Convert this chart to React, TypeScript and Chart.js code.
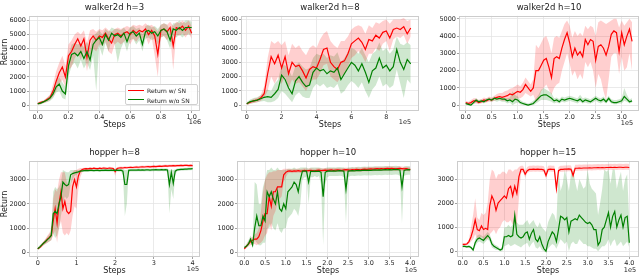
import React, { useEffect, useRef } from 'react';
import { Chart, registerables } from 'chart.js';
Chart.register(...registerables);

const FONT = '"DejaVu Sans", sans-serif';
const RED = '#ff0000';
const GREEN = '#008000';
const RED_BAND = 'rgba(255,0,0,0.19)';
const GREEN_BAND = 'rgba(0,128,0,0.19)';

// ---------- walker2d h=3 (steps in 1e6, every 0.02) ----------
const w3Step = 0.02;
const w3Red = [100,200,250,400,550,1000,1700,2300,2700,2000,3500,3800,4300,4700,4200,4700,3400,4600,4900,4600,4900,4800,5100,4700,4400,5000,5100,4900,5100,5200,5000,5300,5100,5300,5200,5400,5000,5300,4900,3600,5300,5400,5200,5500,4200,5500,5400,5600,5300,5600,5100];
const w3RedLo = [0,100,150,250,350,600,1000,1500,1800,1300,2500,2700,3300,3700,3200,3800,2400,3500,4000,3800,4300,4200,4500,3800,3600,4300,4500,4300,4500,4700,4300,4700,4500,4800,4700,4900,4300,4800,3500,2000,4800,4900,4600,5000,2500,5000,4900,5100,4800,5100,4700];
const w3RedHi = [200,300,350,550,750,1500,2400,3000,3500,2800,4300,4600,5000,5200,5000,5300,4400,5300,5400,5200,5400,5300,5500,5300,5200,5400,5500,5400,5500,5600,5500,5700,5600,5700,5600,5800,5600,5700,5500,5200,5700,5800,5700,5900,5600,5900,5800,6000,5800,6000,5600];
const w3Green = [100,150,250,350,500,800,1300,1500,1000,800,2800,3600,3700,3500,3800,3300,3800,3200,4300,4600,4800,4300,5000,4600,5100,4900,5000,4800,5100,4500,5100,5200,4900,5100,4300,5200,5300,5100,5200,4900,5300,5400,5200,4600,5400,5300,5500,5300,5500,5500,5500];
const w3GreenLo = [0,50,150,200,300,500,900,1000,500,400,2000,2800,3000,2600,3200,2600,3000,2500,3500,1000,4200,3500,4400,3800,4600,4300,3000,4000,4500,3800,4600,4700,4300,4600,3800,4700,4800,4600,4700,4300,4800,4900,4600,4000,4900,4800,5000,4800,5000,5000,5000];
const w3GreenHi = [200,250,350,500,700,1100,1700,2000,1600,1300,3500,4300,4400,4300,4400,4100,4500,4000,4900,5100,5300,5000,5400,5200,5500,5400,5400,5300,5500,5200,5500,5600,5400,5500,5000,5600,5700,5500,5600,5400,5700,5800,5700,5300,5800,5800,6000,5800,6000,6000,5900];

// ---------- walker2d h=8 (steps in 1e5, every 0.2) ----------
const w8Step = 0.2;
const w8Red = [100,200,300,350,500,800,2200,3400,2900,3500,2600,3400,2200,3000,2700,2800,2400,1900,2500,2700,2600,3200,3900,4000,3000,2700,2500,3000,3100,3600,4300,4500,4700,4400,3900,4600,4500,4900,4700,5100,5200,4700,5300,5400,5300,5500,5000,5400];
const w8RedLo = [0,100,150,200,300,500,1000,2000,1500,2000,1500,2000,1200,1800,1500,1600,1300,1000,1500,1800,1800,2200,2800,2900,2000,1800,1600,2000,2200,2700,3300,3500,3800,3500,3000,3600,3600,4000,3800,4300,4500,3800,4600,4800,4700,4900,4300,4800];
const w8RedHi = [200,300,450,500,700,1300,3300,4500,4300,4500,4200,4500,3500,4300,4000,4200,3800,3500,4000,4200,4000,4600,5000,5200,4500,4200,4000,4500,4500,4800,5300,5500,5600,5500,5000,5600,5400,5800,5700,5900,6000,5700,6000,6000,6000,6100,5900,6000];
const w8Green = [100,250,300,350,450,550,600,550,800,1100,2100,1800,1200,800,1700,2000,1600,1300,1400,2300,2600,2400,2500,2200,2400,2300,2600,1800,2200,2600,3000,2800,2400,2900,2300,1600,2400,2600,3300,2600,2800,2400,2700,3900,3000,2500,3200,2900];
const w8GreenLo = [0,100,150,200,250,300,200,200,300,500,1000,800,500,200,700,900,600,500,500,1200,1500,1300,1500,1200,1300,1200,1500,800,1000,1400,1700,1500,1200,1600,1000,500,1100,1400,2000,1300,1500,1200,1400,2500,1500,500,1800,1500];
const w8GreenHi = [200,400,500,550,700,900,1100,1000,1500,1800,2800,2800,2500,2000,2800,3000,2700,2500,2600,3300,3600,3500,3600,3300,3500,3400,3700,3000,3300,3700,4000,3900,3600,4000,3500,3000,3600,3800,4400,3800,4000,3600,3900,4800,4300,4200,4400,4200];

// ---------- walker2d h=10 (steps in 1e5, every 0.05) ----------
const w10Step = 0.05;
const w10Red = [150,100,150,250,250,150,200,300,250,350,300,400,450,500,450,500,550,650,600,700,800,750,900,1200,1000,800,1000,2000,2000,2300,2600,2700,2200,1600,2700,2800,2700,3300,3800,4200,3600,2800,3300,2900,3100,2800,3800,3500,3800,3700,2600,3400,3500,3300,2900,3400,4100,4300,4200,3100,4200,3500,4000,4400,3700];
const w10RedLo = [50,0,50,100,100,50,100,150,150,200,200,250,300,300,250,250,300,350,200,300,400,400,500,700,600,500,600,200,300,800,1000,1200,900,600,1000,1200,1300,2000,2500,3000,2400,1700,2000,1500,1800,1500,2500,2200,2500,2000,1000,1800,1500,800,300,1500,2800,3000,3000,1800,2800,2000,2200,3000,2000];
const w10RedHi = [250,200,300,400,400,300,350,450,400,500,450,550,650,700,700,800,850,950,1000,1100,1200,1100,1300,1600,1400,1200,1500,3500,3300,3600,3900,4000,3600,3000,3900,4000,3900,4300,4700,4900,4600,3900,4300,4000,4200,4000,4600,4400,4600,4500,4000,4800,4900,4800,4700,4800,4900,5000,5000,4500,4900,4600,4800,5000,4800];
const w10Green = [100,50,0,150,300,200,250,200,300,350,300,400,350,400,350,350,250,300,200,350,300,150,100,50,0,50,100,250,400,550,600,600,500,400,250,300,200,350,300,350,400,350,300,250,350,200,300,250,200,300,400,300,250,350,200,400,200,150,150,200,250,500,350,200,250];
const w10GreenLo = [0,0,-50,50,150,100,150,100,200,250,200,250,200,250,200,200,100,150,0,100,150,50,0,0,-50,0,0,100,200,300,300,300,250,200,100,150,100,200,150,200,250,200,150,100,200,100,150,100,100,150,250,150,100,200,100,250,100,50,50,100,100,250,200,100,150];
const w10GreenHi = [200,150,100,250,400,300,350,300,400,450,400,500,450,500,450,450,400,450,800,600,500,300,200,150,100,150,250,400,600,900,1000,900,800,700,400,450,350,500,450,500,550,500,450,400,600,400,450,400,350,450,550,450,400,500,350,550,350,300,300,350,400,1000,600,350,400];

// ---------- hopper h=8 (steps in 1e5, every 0.05) ----------
const h8Step = 0.05;
const h8Red = [150,200,280,380,450,550,620,700,1300,1800,1200,2000,2500,1800,2100,1700,1600,1700,2700,3000,2700,3150,3350,3420,3440,3450,3440,3460,3450,3470,3460,3450,3470,3460,3480,3470,3460,3480,3470,3460,3330,3460,3480,3490,3480,3500,3490,3500,3510,3500,3510,3520,3510,3520,3530,3520,3530,3540,3530,3540,3550,3540,3550,3560,3550,3560,3570,3560,3570,3570,3580,3570,3580,3580,3590,3580,3590,3590,3580,3590,3580];
const h8RedLo = [100,150,200,300,350,400,450,500,700,900,400,1000,1300,800,700,800,700,900,1500,1900,1800,2600,3100,3300,3380,3400,3390,3410,3400,3420,3410,3400,3420,3410,3430,3420,3410,3430,3420,3410,3150,3410,3430,3440,3430,3450,3440,3450,3460,3450,3460,3470,3460,3470,3480,3470,3480,3490,3480,3490,3500,3490,3500,3510,3500,3510,3520,3510,3520,3520,3530,3520,3530,3530,3540,3530,3540,3540,3530,3540,3530];
const h8RedHi = [200,250,350,450,550,700,800,1000,2200,2600,2500,3000,3300,3300,3300,2900,2800,2800,3300,3400,3400,3450,3480,3480,3490,3500,3490,3510,3500,3520,3510,3500,3520,3510,3530,3520,3510,3530,3520,3510,3450,3510,3530,3540,3530,3550,3540,3550,3560,3550,3560,3570,3560,3570,3580,3570,3580,3590,3580,3590,3600,3590,3600,3610,3600,3610,3620,3610,3620,3620,3630,3620,3630,3630,3640,3630,3640,3640,3630,3640,3630];
const h8Green = [150,220,300,380,450,530,600,700,1600,1700,1600,2000,2300,2900,2800,2750,2800,3200,3250,3280,3300,3320,3350,3360,3370,3380,3370,3380,3380,3370,3380,3380,3370,3380,3380,3390,3380,3380,3390,3380,3380,3390,3380,3390,3350,2800,2800,3380,3390,3390,3390,3390,3400,3390,3400,3390,3400,3400,3390,3400,3400,3410,3400,3400,3410,3400,3410,3400,2800,3300,2850,3350,3400,3410,3420,3420,3430,3430,3440,3440,3450];
const h8GreenLo = [100,150,250,300,350,400,450,500,800,600,700,1000,1500,2000,2300,2200,2300,2800,3000,3150,3200,3250,3300,3310,3320,3330,3320,3330,3330,3320,3330,3330,3320,3330,3330,3340,3330,3330,3340,3330,3330,3340,3330,3340,3200,1500,2000,3330,3340,3340,3340,3340,3350,3340,3350,3340,3350,3350,3340,3350,3350,3360,3350,3350,3360,3350,3360,3300,1600,2600,2200,3200,3350,3360,3370,3370,3380,3380,3390,3390,3400];
const h8GreenHi = [200,300,380,450,550,650,750,900,2500,2700,2600,2700,2900,3400,3350,3300,3300,3400,3400,3400,3400,3400,3410,3420,3430,3440,3430,3440,3440,3430,3440,3440,3430,3440,3440,3450,3440,3440,3450,3440,3440,3450,3440,3450,3440,3400,3400,3440,3450,3450,3450,3450,3460,3450,3460,3450,3460,3460,3450,3460,3460,3470,3460,3460,3470,3460,3470,3460,3400,3420,3400,3430,3460,3470,3480,3480,3490,3490,3500,3500,3510];

// ---------- hopper h=10 (steps in 1e5, every 0.05) ----------
const h10Step = 0.05;
const h10Red = [150,250,350,450,500,550,550,650,900,1300,1600,1600,2300,1900,2500,2500,2700,2700,2700,3200,3300,3350,3360,3340,3360,3350,3370,3350,3360,3380,3360,3370,3380,3370,3360,3380,3390,3370,3380,3390,3380,3390,3400,3380,3390,3400,3390,3380,3400,3410,3400,3390,3410,3400,3420,3410,3400,3420,3430,3420,3430,3440,3430,3440,3450,3440,3450,3440,3450,3460,3450,3460,3450,3440,3450,3460,3450,3440,3450,3430,3420];
const h10RedLo = [100,180,250,300,350,350,300,350,400,500,700,800,1200,900,1500,1700,2000,2200,2300,2900,3100,3250,3280,3260,3280,3270,3290,3270,3280,3300,3280,3290,3300,3290,3280,3300,3310,3290,3300,3310,3300,3310,3320,3300,3310,3320,3310,3300,3320,3330,3320,3310,3330,3320,3340,3330,3320,3340,3350,3340,3350,3360,3350,3360,3370,3360,3370,3360,3370,3380,3370,3380,3370,3360,3370,3380,3370,3360,3370,3350,3340];
const h10RedHi = [200,320,450,600,650,750,800,1000,1700,2500,3000,3200,3300,3300,3350,3350,3400,3400,3400,3450,3450,3450,3450,3430,3450,3440,3460,3440,3450,3470,3450,3460,3470,3460,3450,3470,3480,3460,3470,3480,3470,3480,3490,3470,3480,3490,3480,3470,3490,3500,3490,3480,3500,3490,3510,3500,3490,3510,3520,3510,3520,3530,3520,3530,3540,3530,3540,3530,3540,3550,3540,3550,3540,3530,3540,3550,3540,3530,3540,3520,3510];
const h10Green = [200,250,350,550,300,1000,1500,1100,1100,1500,1300,2500,2300,2500,2200,2000,2500,1800,1700,2000,1800,2500,2600,2700,2900,2800,2500,3000,3350,3350,3350,2900,3350,3340,3350,3340,3350,3300,2300,3300,3350,3360,3350,3360,3350,3360,3370,3360,3350,2600,3350,3360,3370,3360,3370,3380,3370,3380,3390,3380,3390,3380,3390,3400,3390,3400,3390,3400,3410,3400,3410,3400,3410,3420,3410,3400,2700,3380,3400,3410,3400];
const h10GreenLo = [150,180,250,400,200,500,400,300,300,400,400,1000,1000,1200,1000,900,1200,900,800,1000,1000,1400,1500,1600,1800,1700,1500,2000,3000,3100,3100,2000,3100,3100,3150,3100,3150,2800,300,2800,3100,3150,3150,3150,3150,3150,3160,3150,3100,1200,3100,3150,3160,3150,3160,3170,3160,3170,3180,3170,3180,3170,3180,3190,3180,3190,3180,3190,3200,3190,3200,3190,3200,3210,3200,3150,1200,3150,3190,3200,3200];
const h10GreenHi = [250,350,500,700,500,2900,2800,2000,2000,2700,3000,3400,3400,3500,3400,3400,3500,3400,3400,3400,3400,3450,3450,3450,3500,3450,3450,3500,3500,3500,3500,3450,3500,3500,3500,3500,3500,3480,3450,3480,3500,3510,3500,3510,3500,3510,3520,3510,3500,3450,3500,3510,3520,3510,3520,3530,3520,3530,3540,3530,3540,3530,3540,3550,3540,3550,3540,3550,3560,3550,3560,3550,3560,3570,3560,3550,3450,3540,3550,3560,3550];

// ---------- hopper h=15 (steps in 1e5, every 0.05) ----------
const h15Step = 0.05;
const h15Red = [280,280,300,400,600,900,1300,900,850,1050,900,950,900,1900,2300,2100,1700,2000,2100,2200,2300,2200,2600,2700,2300,2700,2400,3100,3400,3400,3200,3350,3400,3400,3410,3400,3410,3400,3400,3380,3150,3400,3410,3400,3400,2600,3350,3400,3400,3410,3410,3420,3410,3150,3450,3450,3460,3450,3460,3460,3460,3470,3460,3470,3470,3480,3470,3480,3470,3480,3480,3490,3480,3490,3480,3490,3490,3480,3490,3490,3480];
const h15RedLo = [230,230,250,300,400,500,700,500,500,600,500,500,500,700,800,900,700,900,1000,1200,1300,1200,1200,1300,1100,1200,1100,2200,3250,3300,3050,3250,3300,3300,3310,3300,3310,3300,3300,3280,3000,3300,3310,3300,3300,2400,3250,3300,3300,3310,3310,3320,3310,3000,3350,3350,3360,3350,3360,3360,3360,3370,3360,3370,3370,3380,3370,3380,3370,3380,3380,3390,3380,3390,3380,3390,3390,3380,3390,3390,3380];
const h15RedHi = [330,330,350,500,1000,1500,2200,1400,1300,1600,1500,1600,2000,3000,3400,3300,3000,3200,3200,3300,3300,3200,3400,3400,3300,3400,3400,3500,3550,3550,3350,3500,3550,3550,3560,3550,3560,3550,3550,3530,3300,3550,3560,3550,3550,2800,3500,3550,3550,3560,3560,3570,3560,3300,3600,3600,3610,3600,3610,3610,3610,3620,3610,3620,3620,3630,3620,3630,3620,3630,3630,3640,3630,3640,3630,3640,3640,3630,3640,3640,3630];
const h15Green = [200,200,180,200,150,50,350,500,550,500,450,550,650,550,300,200,150,100,50,100,600,600,650,600,650,1500,700,600,550,600,750,800,500,750,900,500,400,600,300,100,0,400,600,800,700,400,900,1450,1400,1300,1400,800,1250,1300,1350,1300,1500,1400,1300,1200,1150,1200,1100,900,900,250,400,900,1000,1300,1600,1000,1450,1650,1000,1300,1500,1000,1400,1450,350];
const h15GreenLo = [150,150,130,150,100,0,200,350,400,350,300,400,500,400,150,100,50,50,0,0,200,250,300,200,250,300,250,200,150,250,300,350,150,300,400,150,100,200,50,0,-50,100,200,300,250,100,300,500,400,300,400,0,300,400,300,300,500,400,300,300,200,200,150,100,100,0,100,200,200,300,500,200,400,500,200,300,400,200,300,400,150];
const h15GreenHi = [250,250,230,250,200,100,500,650,700,650,600,700,800,700,450,300,250,200,100,200,1000,1000,1100,1000,1100,1600,1200,1100,1100,1100,1200,1300,1100,1200,1300,1100,1000,1200,1000,900,800,1200,1400,1600,1500,1200,3400,2500,2800,3400,3000,2500,3200,3400,2900,2500,3000,2800,2600,2700,3400,2800,2600,2500,2400,1500,2000,2600,3400,3300,3400,2800,3400,3400,2600,3000,3300,2500,3000,3200,1200];

// ---------- tick labels ----------
const yTicks6000 = [0, 1000, 2000, 3000, 4000, 5000, 6000];
const yTicks5000 = [0, 1000, 2000, 3000, 4000, 5000];
const yTicks3000 = [0, 1000, 2000, 3000];
const xTicksW3 = [0, 0.2, 0.4, 0.6, 0.8, 1.0];
const xTicksW8 = [0, 2, 4, 6, 8];
const xTicksW10 = [0, 0.5, 1.0, 1.5, 2.0, 2.5, 3.0];
const xTicksH8 = [0, 1, 2, 3, 4];
const xTicksH = [0, 0.5, 1.0, 1.5, 2.0, 2.5, 3.0, 3.5, 4.0];

type Panel = {
  title: string; offset: string;
  step: number; red: number[]; redLo: number[]; redHi: number[];
  green: number[]; greenLo: number[]; greenHi: number[];
  xTicks: number[]; xDec: number; yTicks: number[];
  xMin: number; xMax: number; yMin: number; yMax: number;
  box: [number, number, number, number]; // plot area: left, top, right, bottom
  offPos: [number, number];
};

const PANELS: Panel[] = [
  { title: 'walker2d h=3', offset: '1e6', step: w3Step, red: w3Red, redLo: w3RedLo, redHi: w3RedHi, green: w3Green, greenLo: w3GreenLo, greenHi: w3GreenHi,
    xTicks: xTicksW3, xDec: 1, yTicks: yTicks6000, xMin: -0.0565, xMax: 1.054, yMin: -412, yMax: 6323, box: [29, 13, 200, 111], offPos: [195, 122] },
  { title: 'walker2d h=8', offset: '1e5', step: w8Step, red: w8Red, redLo: w8RedLo, redHi: w8RedHi, green: w8Green, greenLo: w8GreenLo, greenHi: w8GreenHi,
    xTicks: xTicksW8, xDec: 0, yTicks: yTicks6000, xMin: -0.327, xMax: 9.874, yMin: -408, yMax: 6251, box: [241, 13, 419, 111], offPos: [405, 122] },
  { title: 'walker2d h=10', offset: '1e5', step: w10Step, red: w10Red, redLo: w10RedLo, redHi: w10RedHi, green: w10Green, greenLo: w10GreenLo, greenHi: w10GreenHi,
    xTicks: xTicksW10, xDec: 1, yTicks: yTicks5000, xMin: -0.129, xMax: 3.333, yMin: -337, yMax: 5169, box: [459, 13, 639, 111], offPos: [627, 122.5] },
  { title: 'hopper h=8', offset: '1e5', step: h8Step, red: h8Red, redLo: h8RedLo, redHi: h8RedHi, green: h8Green, greenLo: h8GreenLo, greenHi: h8GreenHi,
    xTicks: xTicksH8, xDec: 0, yTicks: yTicks3000, xMin: -0.225, xMax: 4.19, yMin: -188, yMax: 3772, box: [29, 158, 200, 257], offPos: [193, 268.7] },
  { title: 'hopper h=10', offset: '1e5', step: h10Step, red: h10Red, redLo: h10RedLo, redHi: h10RedHi, green: h10Green, greenLo: h10GreenLo, greenHi: h10GreenHi,
    xTicks: xTicksH, xDec: 1, yTicks: yTicks3000, xMin: -0.176, xMax: 4.21, yMin: -188, yMax: 3772, box: [237, 158, 419, 257], offPos: [411, 269.5] },
  { title: 'hopper h=15', offset: '1e5', step: h15Step, red: h15Red, redLo: h15RedLo, redHi: h15RedHi, green: h15Green, greenLo: h15GreenLo, greenHi: h15GreenHi,
    xTicks: xTicksH, xDec: 1, yTicks: yTicks3000, xMin: -0.137, xMax: 4.233, yMin: -242, yMax: 3755, box: [457, 158, 639, 257], offPos: [630, 269.5] },
];

const YW = 28; // y-axis box width
const XH = 18; // x-axis box height
const PT = 2;  // top padding
const PR = 1;  // right padding

const framePlugin = {
  id: 'frame',
  afterDatasetsDraw(chart: any) {
    const { ctx, chartArea: a } = chart;
    ctx.save();
    ctx.strokeStyle = '#cccccc';
    ctx.lineWidth = 1;
    ctx.strokeRect(Math.round(a.left) + 0.5, Math.round(a.top) + 0.5, Math.round(a.right - a.left) - 1, Math.round(a.bottom - a.top) - 1);
    ctx.restore();
  },
};

function PlotPanel({ p }: { p: Panel }) {
  const ref = useRef<HTMLCanvasElement>(null);
  const [x0, y0, x1, y1] = p.box;
  const left = x0 - YW;
  const top = y0 - PT;
  const width = x1 - x0 + YW + PR;
  const height = y1 - y0 + PT + XH;
  useEffect(() => {
    const pts = (arr: number[]) => arr.map((v, i) => ({ x: Math.round(i * p.step * 1e6) / 1e6, y: v }));
    const band = (arr: number[], fill: any, color: string) => ({
      data: pts(arr), borderColor: 'transparent', borderWidth: 0, pointRadius: 0, backgroundColor: color, fill, order: 3,
    });
    const chart = new Chart(ref.current as HTMLCanvasElement, {
      type: 'line',
      data: {
        datasets: [
          band(p.redHi, '+1', RED_BAND) as any,
          band(p.redLo, false, RED_BAND) as any,
          band(p.greenHi, '+1', GREEN_BAND) as any,
          band(p.greenLo, false, GREEN_BAND) as any,
          { data: pts(p.red), borderColor: RED, borderWidth: 1.2, pointRadius: 0, fill: false, order: 2 } as any,
          { data: pts(p.green), borderColor: GREEN, borderWidth: 1.2, pointRadius: 0, fill: false, order: 1 } as any,
        ],
      },
      options: {
        animation: false,
        responsive: false,
        events: [],
        layout: { padding: { top: PT, right: PR, left: 0, bottom: 0 } },
        plugins: { legend: { display: false }, tooltip: { enabled: false }, title: { display: false } },
        scales: {
          x: {
            type: 'linear', min: p.xMin, max: p.xMax,
            afterBuildTicks: (s: any) => { s.ticks = p.xTicks.map((v) => ({ value: v })); },
            afterFit: (s: any) => { s.height = XH; },
            grid: { color: '#e5e5e5', lineWidth: 0.8, tickLength: 2, tickColor: '#8a8a8a' },
            border: { display: false },
            ticks: {
              autoSkip: false, maxRotation: 0, padding: 0, color: '#262626',
              font: { family: FONT, size: 6.5 },
              callback: (v: any) => Number(v).toFixed(p.xDec),
            },
          },
          y: {
            type: 'linear', min: p.yMin, max: p.yMax,
            afterBuildTicks: (s: any) => { s.ticks = p.yTicks.map((v) => ({ value: v })); },
            afterFit: (s: any) => { s.width = YW; },
            grid: { color: '#e5e5e5', lineWidth: 0.8, tickLength: 2, tickColor: '#8a8a8a' },
            border: { display: false },
            ticks: {
              autoSkip: false, padding: 1, color: '#262626',
              font: { family: FONT, size: 6.5 },
              callback: (v: any) => String(v),
            },
          },
        },
      },
      plugins: [framePlugin],
    } as any);
    return () => chart.destroy();
  }, []);
  return (
    <canvas ref={ref} width={width} height={height}
      style={{ position: 'absolute', left, top, width, height }} />
  );
}

function Txt({ x, y, size, children, rot }: { x: number; y: number; size: number; children: any; rot?: boolean }) {
  return (
    <div style={{
      position: 'absolute', left: x, top: y, transform: `translate(-50%, -50%)${rot ? ' rotate(-90deg)' : ''}`,
      fontFamily: FONT, fontSize: size, lineHeight: 1, whiteSpace: 'nowrap', color: '#1a1a1a',
    }}>{children}</div>
  );
}

export default function App() {
  return (
    <div style={{ position: 'absolute', left: 0, top: 0, width: 640, height: 275, background: '#fff', overflow: 'hidden' }}>
      {PANELS.map((p, i) => {
        const [x0, y0, x1] = p.box;
        const cx = (x0 + x1) / 2;
        const bottomRow = i >= 3;
        return (
          <React.Fragment key={i}>
            <PlotPanel p={p} />
            <Txt x={cx} y={y0 - 6.5} size={8.5}>{p.title}</Txt>
            <Txt x={cx} y={bottomRow ? 270.5 : 124.5} size={8}>Steps</Txt>
            <Txt x={p.offPos[0]} y={p.offPos[1]} size={6.5}>{p.offset}</Txt>
          </React.Fragment>
        );
      })}
      <Txt x={4.5} y={52} size={8} rot>Return</Txt>
      <Txt x={4.5} y={204} size={8} rot>Return</Txt>
      <div style={{
        position: 'absolute', left: 125, top: 84, width: 73, height: 21, boxSizing: 'border-box',
        background: 'rgba(255,255,255,0.85)', border: '1px solid #d0d0d0', borderRadius: 2,
      }}>
        <div style={{ position: 'absolute', left: 2, top: 4.5, width: 16, height: 1.2, background: RED }} />
        <div style={{ position: 'absolute', left: 2, top: 14, width: 16, height: 1.2, background: GREEN }} />
        <div style={{ position: 'absolute', left: 21, top: 2, fontFamily: FONT, fontSize: 6, lineHeight: '7px', color: '#1a1a1a', whiteSpace: 'nowrap' }}>Return w/ SN</div>
        <div style={{ position: 'absolute', left: 21, top: 11.5, fontFamily: FONT, fontSize: 6, lineHeight: '7px', color: '#1a1a1a', whiteSpace: 'nowrap' }}>Return w/o SN</div>
      </div>
    </div>
  );
}
